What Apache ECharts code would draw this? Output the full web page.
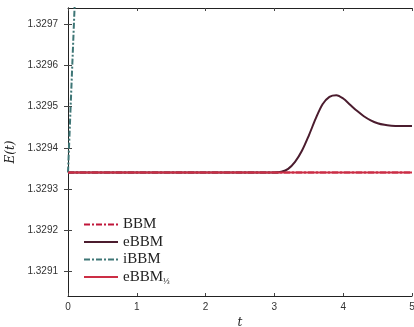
<!DOCTYPE html>
<html>
<head>
<meta charset="utf-8">
<script src="https://cdn.jsdelivr.net/npm/echarts@6/dist/echarts.min.js"></script>
<style>
  html, body { margin: 0; padding: 0; background: #fff; }
  #chart { width: 414px; height: 327px; }
</style>
</head>
<body>
<div id="chart"></div>
<script>
// time points and energy values
const flatT = [0, 5];
const bbmE = [1.32934, 1.32934];
const ebbm13E = [1.32934, 1.32934];

const ebbmT = [0, 3.0, 3.1, 3.2, 3.3, 3.4, 3.5, 3.6, 3.7, 3.8, 3.9, 4.0, 4.1, 4.2, 4.3, 4.4, 4.5, 4.6, 4.7, 4.8, 5.0];
const ebbmE = [1.32934, 1.32934, 1.329342, 1.329349, 1.329366, 1.329393, 1.32943, 1.329471, 1.329506, 1.329524, 1.329528,
  1.32952, 1.329505, 1.32949, 1.329477, 1.329467, 1.32946, 1.329456, 1.329454, 1.329453, 1.329453];

const ibbmT = [0, 0.05, 0.1, 0.15];
const ibbmE = [1.32934, 1.32955, 1.32976, 1.32997];

const yTicks = [1.3291, 1.3292, 1.3293, 1.3294, 1.3295, 1.3296, 1.3297];

const zip = (a, b) => a.map((v, i) => [v, b[i]]);

const chart = echarts.init(document.getElementById('chart'));

const dashDot = [6, 2, 2, 2];
const tickFont = { fontFamily: 'Liberation Sans', fontSize: 10, color: '#333' };

const option = {
  animation: false,
  grid: { left: 68, right: 2, top: 8, bottom: 31, outerBoundsMode: 'none' },
  xAxis: [
    {
      type: 'value', min: 0, max: 5, interval: 1,
      name: 't', nameLocation: 'middle', nameGap: 17,
      nameTextStyle: { fontFamily: 'DejaVu Serif', fontStyle: 'italic', fontSize: 12, color: '#222' },
      axisLine: { lineStyle: { color: '#222', width: 1 } },
      axisTick: { inside: true, length: 3, lineStyle: { color: '#444' } },
      axisLabel: Object.assign({ margin: 6 }, tickFont),
      splitLine: { show: false }
    },
    {
      type: 'value', min: 0, max: 5, interval: 1, position: 'top',
      axisLine: { show: true, lineStyle: { color: '#222', width: 1 } },
      axisTick: { inside: true, length: 3, lineStyle: { color: '#444' } },
      axisLabel: { show: false },
      splitLine: { show: false }
    }
  ],
  yAxis: [
    {
      type: 'value', min: 1.32904, max: 1.32974,
      name: 'E(t)', nameLocation: 'middle', nameGap: 48, nameRotate: 90,
      nameTextStyle: { fontFamily: 'DejaVu Serif', fontStyle: 'italic', fontSize: 12, color: '#222' },
      axisLine: { show: true, lineStyle: { color: '#222', width: 1 } },
      axisTick: { show: true, inside: true, length: 4, customValues: yTicks, lineStyle: { color: '#444' } },
      axisLabel: Object.assign({
        margin: 10, customValues: yTicks,
        formatter: v => v.toFixed(4)
      }, tickFont),
      splitLine: { show: false }
    },
    {
      type: 'value', min: 1.32904, max: 1.32974, position: 'right',
      axisLine: { show: true, lineStyle: { color: '#222', width: 1 } },
      axisTick: { show: true, inside: true, length: 4, customValues: yTicks, lineStyle: { color: '#444' } },
      axisLabel: { show: false },
      splitLine: { show: false }
    }
  ],
  legend: {
    show: true,
    orient: 'vertical', left: 78, top: 212,
    itemWidth: 34, itemHeight: 10, itemGap: 2.5,
    itemStyle: { opacity: 0 },
    textStyle: {
      fontFamily: 'Liberation Serif', fontSize: 15, color: '#222',
      rich: {
        s: { fontFamily: 'Liberation Serif', fontSize: 9, color: '#222', padding: [9, 0, 0, 0] }
      }
    },
    formatter: name => name === 'eBBM13' ? 'eBBM{s|⅓}' : name,
    data: ['BBM', 'eBBM', 'iBBM', 'eBBM13']
  },
  series: [
    {
      name: 'BBM', type: 'line', data: zip(flatT, bbmE), showSymbol: false, symbol: 'none',
      lineStyle: { color: '#c0163a', width: 2, type: dashDot }, itemStyle: { color: '#c0163a' }, z: 2
    },
    {
      name: 'eBBM', type: 'line', data: zip(ebbmT, ebbmE), showSymbol: false, symbol: 'none', smooth: 0.3,
      lineStyle: { color: '#4b1c2e', width: 2 }, itemStyle: { color: '#4b1c2e' }, z: 3
    },
    {
      name: 'iBBM', type: 'line', data: zip(ibbmT, ibbmE), showSymbol: false, symbol: 'none',
      lineStyle: { color: '#3e7676', width: 2, type: dashDot }, itemStyle: { color: '#3e7676' }, z: 4
    },
    {
      name: 'eBBM13', type: 'line', data: zip(flatT, ebbm13E), showSymbol: false, symbol: 'none',
      lineStyle: { color: '#cc2e45', width: 2 }, itemStyle: { color: '#cc2e45' }, z: 5
    }
  ]
};

chart.setOption(option);
</script>
</body>
</html>
